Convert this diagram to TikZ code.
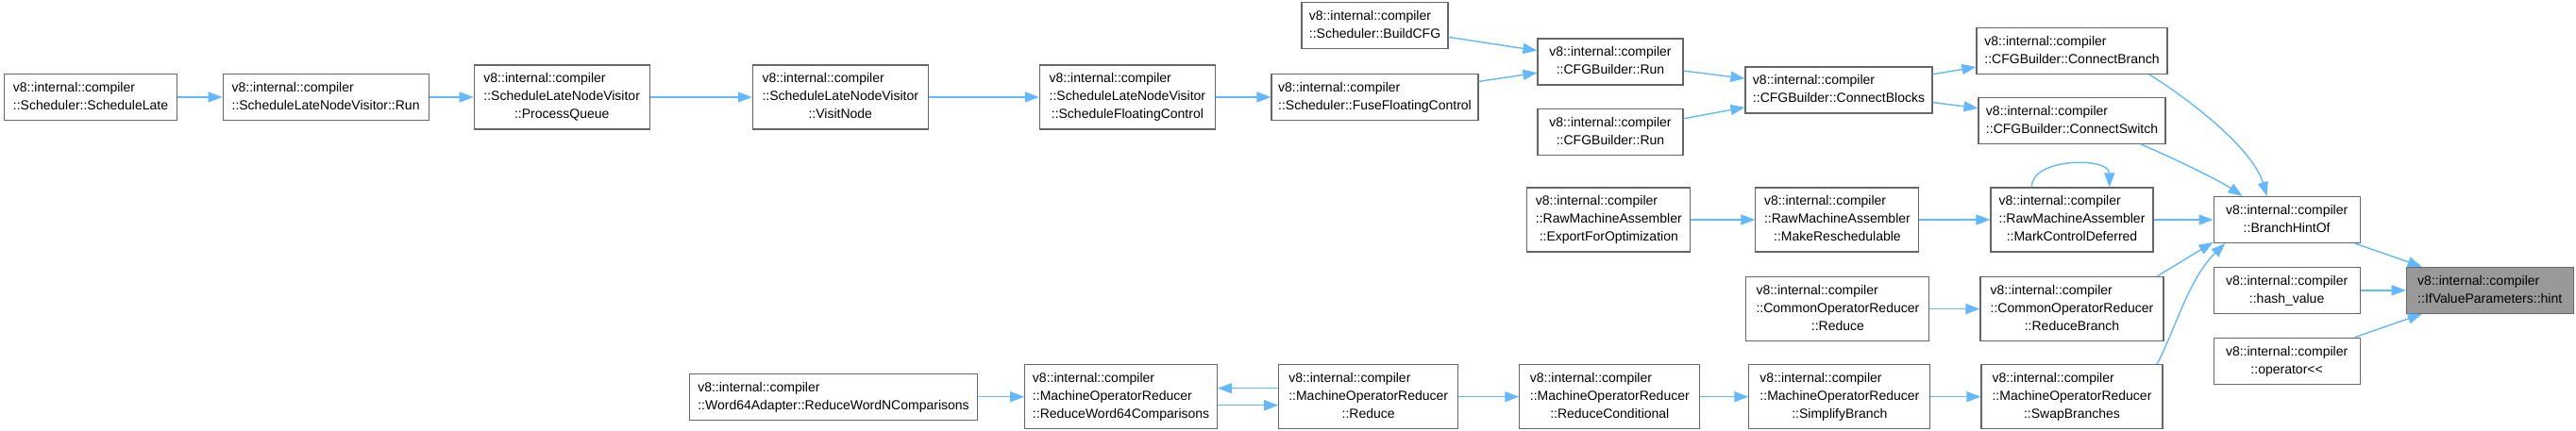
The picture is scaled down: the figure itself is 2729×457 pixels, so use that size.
\documentclass[tikz,border=0pt]{standalone}
\usepackage{fontspec}
\setmainfont{Liberation Sans}
\definecolor{edge}{HTML}{63B8FF}
\definecolor{frame}{HTML}{666666}
\definecolor{hit}{HTML}{999999}
\usetikzlibrary{arrows.meta,positioning}
\newcommand{\fname}[2]{\begin{tabular}{@{}l@{}}#1\\\multicolumn{1}{@{}c@{}}{#2}\end{tabular}}
\tikzset{
  fn_box/.style={draw=frame,fill=white,line width=1.1pt,inner xsep=3pt,inner ysep=2pt,
    minimum height=49pt,font=\fontsize{14}{19}\selectfont},
  fn_box3/.style={fn_box,minimum height=68pt},
  fn_hit/.style={fn_box,fill=hit},
  arr/.style={-{Triangle[length=15pt,width=11pt]},draw=edge,line width=1.4pt},
}
\begin{document}
\begin{tikzpicture}[x=1pt,y=-1pt]
  \path[use as bounding box,fill=white] (0,0) rectangle (2729,457);

  \node[fn_box,minimum width=183pt] (schedLate) at (96,103) {\fname{v8::internal::compiler}{::Scheduler::ScheduleLate}};
  \node[fn_box,minimum width=218pt,right=47.5pt of schedLate] (slnvRun) {\fname{v8::internal::compiler}{::ScheduleLateNodeVisitor::Run}};
  \node[fn_box3,minimum width=186pt,right=47pt of slnvRun] (procQueue) {\fname{v8::internal::compiler\\::ScheduleLateNodeVisitor}{::ProcessQueue}};
  \node[fn_box3,minimum width=186pt,right=108pt of procQueue] (visitNode) {\fname{v8::internal::compiler\\::ScheduleLateNodeVisitor}{::VisitNode}};
  \node[fn_box3,minimum width=186pt,right=117pt of visitNode] (schedFloat) {\fname{v8::internal::compiler\\::ScheduleLateNodeVisitor}{::ScheduleFloatingControl}};
  \node[fn_box,minimum width=219pt,right=58.5pt of schedFloat] (fuseFloat) {\fname{v8::internal::compiler}{::Scheduler::FuseFloatingControl}};
  \node[fn_box,minimum width=155pt,above=25.5pt of fuseFloat] (buildCFG) {\fname{v8::internal::compiler}{::Scheduler::BuildCFG}};
  \node[fn_box,minimum width=154pt] (cfgRun1) at (1706,65.5) {\fname{v8::internal::compiler}{::CFGBuilder::Run}};
  \node[fn_box,minimum width=154pt,below=24.5pt of cfgRun1] (cfgRun2) {\fname{v8::internal::compiler}{::CFGBuilder::Run}};
  \node[fn_box,minimum width=198pt] (connectBlocks) at (1948,95.5) {\fname{v8::internal::compiler}{::CFGBuilder::ConnectBlocks}};
  \node[fn_box,minimum width=202pt] (connectBranch) at (2195,54) {\fname{v8::internal::compiler}{::CFGBuilder::ConnectBranch}};
  \node[fn_box,minimum width=198pt,below=23.7pt of connectBranch] (connectSwitch) {\fname{v8::internal::compiler}{::CFGBuilder::ConnectSwitch}};

  \node[fn_box3,minimum width=172pt] (markControl) at (2195,233) {\fname{v8::internal::compiler\\::RawMachineAssembler}{::MarkControlDeferred}};
  \node[fn_box3,minimum width=173pt,left=75pt of markControl] (makeResched) {\fname{v8::internal::compiler\\::RawMachineAssembler}{::MakeReschedulable}};
  \node[fn_box3,minimum width=173pt,left=68pt of makeResched] (exportOpt) {\fname{v8::internal::compiler\\::RawMachineAssembler}{::ExportForOptimization}};
  \node[fn_box,minimum width=155pt,right=63pt of markControl] (branchHintOf) {\fname{v8::internal::compiler}{::BranchHintOf}};
  \node[fn_box,minimum width=155pt,below=24.7pt of branchHintOf] (hashValue) {\fname{v8::internal::compiler}{::hash\_value}};
  \node[fn_box,minimum width=155pt,below=24.8pt of hashValue] (operatorLL) {\fname{v8::internal::compiler}{::operator<{}<}};
  \node[fn_hit,minimum width=177pt,right=48pt of hashValue] (hint) {\fname{v8::internal::compiler}{::IfValueParameters::hint}};

  \node[fn_box3,minimum width=194pt,below=25.5pt of markControl] (reduceBranch) {\fname{v8::internal::compiler\\::CommonOperatorReducer}{::ReduceBranch}};
  \node[fn_box3,minimum width=194pt,left=53pt of reduceBranch] (commonReduce) {\fname{v8::internal::compiler\\::CommonOperatorReducer}{::Reduce}};
  \node[fn_box3,minimum width=192pt,below=24pt of reduceBranch] (swapBranches) {\fname{v8::internal::compiler\\::MachineOperatorReducer}{::SwapBranches}};
  \node[fn_box3,minimum width=192pt,left=53pt of swapBranches] (simplifyBranch) {\fname{v8::internal::compiler\\::MachineOperatorReducer}{::SimplifyBranch}};
  \node[fn_box3,minimum width=191pt,left=51pt of simplifyBranch] (reduceCond) {\fname{v8::internal::compiler\\::MachineOperatorReducer}{::ReduceConditional}};
  \node[fn_box3,minimum width=190pt,left=64pt of reduceCond] (morReduce) {\fname{v8::internal::compiler\\::MachineOperatorReducer}{::Reduce}};
  \node[fn_box3,minimum width=204pt,left=64pt of morReduce] (reduceWord64) {\fname{v8::internal::compiler\\::MachineOperatorReducer}{::ReduceWord64Comparisons}};
  \node[fn_box,minimum width=305pt,left=49pt of reduceWord64] (word64Adapter) {\fname{v8::internal::compiler}{::Word64Adapter::ReduceWordNComparisons}};

  \draw[arr] (schedLate) -- (slnvRun);
  \draw[arr] (slnvRun) -- (procQueue);
  \draw[arr] (procQueue) -- (visitNode);
  \draw[arr] (visitNode) -- (schedFloat);
  \draw[arr] (schedFloat) -- (fuseFloat);
  \draw[arr] (buildCFG) -- (cfgRun1);
  \draw[arr] (fuseFloat) -- (cfgRun1);
  \draw[arr] (cfgRun1) -- (connectBlocks);
  \draw[arr] (cfgRun2) -- (connectBlocks);
  \draw[arr] (connectBlocks) -- (connectBranch);
  \draw[arr] (connectBlocks) -- (connectSwitch);
  \draw[arr] (connectBranch.-17) .. controls +(45,28) and +(-15,-50) .. (branchHintOf.130);
  \draw[arr] (connectSwitch.-19) .. controls +(35,15) and +(-25,-17) .. (branchHintOf.152);
  \draw[arr] (markControl.141) .. controls +(0,-32) and +(0,-32) .. (markControl.41);
  \draw[arr] (exportOpt) -- (makeResched);
  \draw[arr] (makeResched) -- (markControl);
  \draw[arr] (markControl) -- (branchHintOf);
  \draw[arr] (commonReduce) -- (reduceBranch);
  \draw[arr] (reduceBranch.21) -- (branchHintOf.197);
  \draw[arr] (word64Adapter) -- (reduceWord64);
  \draw[arr] ([yshift=9pt]morReduce.west) -- ([yshift=9pt]reduceWord64.east);
  \draw[arr] ([yshift=-9pt]reduceWord64.east) -- ([yshift=-9pt]morReduce.west);
  \draw[arr] (morReduce) -- (reduceCond);
  \draw[arr] (reduceCond) -- (simplifyBranch);
  \draw[arr] (simplifyBranch) -- (swapBranches);
  \draw[arr] (swapBranches.21) .. controls +(18,-33) and +(-39,37.5) .. (branchHintOf.201);
  \draw[arr] (branchHintOf) -- (hint);
  \draw[arr] (hashValue) -- (hint);
  \draw[arr] (operatorLL) -- (hint);
\end{tikzpicture}
\end{document}
